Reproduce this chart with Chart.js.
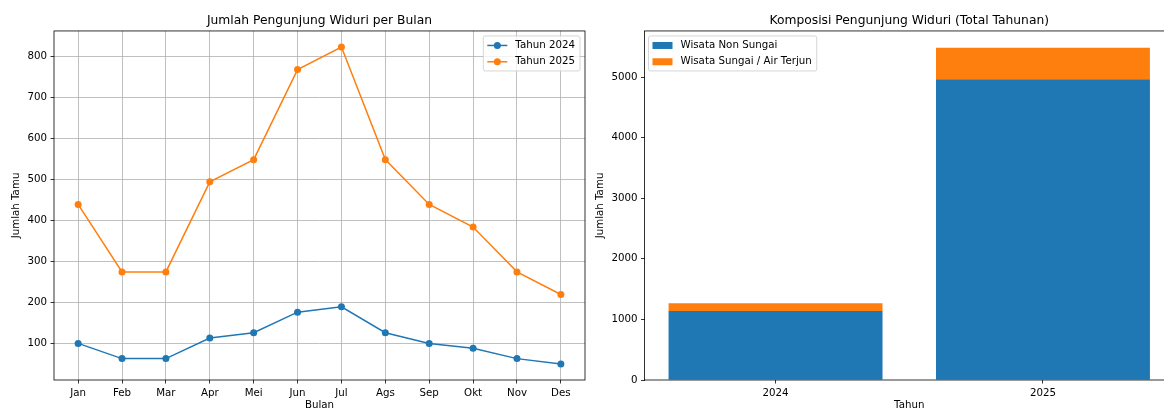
<!DOCTYPE html>
<html>
<head>
<meta charset="utf-8">
<script src="https://cdn.jsdelivr.net/npm/chart.js@4"></script>
<style>
  body { margin: 0; background: #fff; }
  #wrap { position: relative; width: 1164px; height: 410px; overflow: hidden; }
  canvas { position: absolute; top: 0; }
</style>
</head>
<body>
<div id="wrap">
  <canvas id="chartBulan" width="600" height="410" style="left:0"></canvas>
  <canvas id="chartTahun" width="594" height="410" style="left:590px"></canvas>
</div>
<script>
/** Data **/
const bulan = ["Jan", "Feb", "Mar", "Apr", "Mei", "Jun", "Jul", "Ags", "Sep", "Okt", "Nov", "Des"];
const tamu2024 = [101, 64, 64, 114, 127, 177, 190, 127, 101, 89, 64, 51];
const tamu2025 = [439, 275, 275, 494, 548, 767, 822, 548, 439, 384, 275, 220];

const tahun = ["2024", "2025"];
const nonSungai = [1140, 4962];
const sungai = [125, 521];
const ticksTahunY = [0, 1000, 2000, 3000, 4000, 5000];

const biru = "#1f77b4";
const oranye = "#ff7f0e";
const FONT = "DejaVu Sans";
const FS = 10.25;

/** frame + legend inside the plot, like matplotlib **/
const frameLegend = {
  id: "frameLegend",
  afterDraw(chart, args, opts) {
    const ctx = chart.ctx;
    const a = chart.chartArea;
    ctx.save();
    ctx.strokeStyle = "#000";
    ctx.lineWidth = 0.8;
    ctx.strokeRect(a.left, a.top, a.right - a.left, a.bottom - a.top);

    ctx.font = FS + "px '" + FONT + "'";
    const sets = chart.data.datasets;
    let textW = 0;
    sets.forEach(ds => { textW = Math.max(textW, ctx.measureText(ds.label).width); });
    const w = 32 + textW + 5;
    const h = 35;
    const x = opts.align === "right" ? a.right - 5 - w : a.left + 4;
    const y = a.top + 5;

    ctx.fillStyle = "rgba(255,255,255,0.8)";
    ctx.strokeStyle = "#cccccc";
    ctx.lineWidth = 0.8;
    ctx.beginPath();
    ctx.roundRect(x, y, w, h, 2);
    ctx.fill();
    ctx.stroke();

    sets.forEach((ds, i) => {
      const cy = y + 9.5 + i * 16.3;
      if (opts.kind === "line") {
        ctx.strokeStyle = ds.borderColor;
        ctx.lineWidth = 1.5;
        ctx.beginPath();
        ctx.moveTo(x + 4, cy);
        ctx.lineTo(x + 24, cy);
        ctx.stroke();
        ctx.fillStyle = ds.borderColor;
        ctx.beginPath();
        ctx.arc(x + 14, cy, 3.5, 0, Math.PI * 2);
        ctx.fill();
      } else {
        ctx.fillStyle = ds.backgroundColor;
        ctx.fillRect(x + 4, cy - 3.5, 20, 7);
      }
      ctx.fillStyle = "#000";
      ctx.textBaseline = "middle";
      ctx.textAlign = "left";
      ctx.fillText(ds.label, x + 32, cy);
    });
    ctx.restore();
  }
};

function titleOpts(text) {
  return {
    display: true,
    text: text,
    fullSize: false,
    color: "#000",
    font: { family: FONT, size: 12.3, weight: "normal", lineHeight: 1.2 },
    padding: { top: 13.6, bottom: 2.6 }
  };
}

function tickFont() {
  return { family: FONT, size: FS };
}

/** Chart 1: monthly lines **/
new Chart(document.getElementById("chartBulan"), {
  type: "line",
  data: {
    datasets: [{
      label: "Tahun 2024",
      data: tamu2024.map((v, i) => ({ x: i, y: v })),
      borderColor: biru,
      backgroundColor: biru,
      borderWidth: 1.5,
      pointRadius: 3.5,
      pointBorderWidth: 0,
      tension: 0
    }, {
      label: "Tahun 2025",
      data: tamu2025.map((v, i) => ({ x: i, y: v })),
      borderColor: oranye,
      backgroundColor: oranye,
      borderWidth: 1.5,
      pointRadius: 3.5,
      pointBorderWidth: 0,
      tension: 0
    }]
  },
  options: {
    responsive: false,
    animation: false,
    layout: { padding: { left: 0, right: 15, top: 0, bottom: 0 } },
    plugins: {
      legend: { display: false },
      tooltip: { enabled: false },
      title: titleOpts("Jumlah Pengunjung Widuri per Bulan"),
      frameLegend: { align: "right", kind: "line" }
    },
    scales: {
      x: {
        type: "linear",
        min: -0.55,
        max: 11.55,
        afterFit: s => { s.height = 30; },
        grid: { color: "#b0b0b0", lineWidth: 0.8, tickLength: 3.5, tickColor: "#000", tickWidth: 0.8 },
        border: { display: false },
        ticks: {
          stepSize: 1,
          includeBounds: false,
          autoSkip: false,
          maxRotation: 0,
          maxTicksLimit: 20,
          padding: 3.5,
          color: "#000",
          font: tickFont(),
          callback: v => bulan[v] ?? ""
        },
        title: { display: true, text: "Bulan", color: "#000", font: { family: FONT, size: FS, lineHeight: 1 }, padding: { top: 0, bottom: 0 } }
      },
      y: {
        type: "linear",
        min: 12,
        max: 861,
        afterFit: s => { s.width = 54; },
        grid: { color: "#b0b0b0", lineWidth: 0.8, tickLength: 3.5, tickColor: "#000", tickWidth: 0.8 },
        border: { display: false },
        ticks: {
          stepSize: 100,
          includeBounds: false,
          padding: 3.5,
          color: "#000",
          font: tickFont(),
          callback: v => String(v)
        },
        title: { display: true, text: "Jumlah Tamu", color: "#000", font: { family: FONT, size: FS, lineHeight: 1.2 }, padding: { top: 10.5, bottom: 0 } }
      }
    }
  },
  plugins: [frameLegend]
});

/** Chart 2: stacked yearly bars **/
new Chart(document.getElementById("chartTahun"), {
  type: "bar",
  data: {
    datasets: [{
      label: "Wisata Non Sungai",
      data: nonSungai.map((v, i) => ({ x: i, y: v })),
      backgroundColor: biru,
      borderWidth: 0,
      categoryPercentage: 1,
      barPercentage: 0.8
    }, {
      label: "Wisata Sungai / Air Terjun",
      data: sungai.map((v, i) => ({ x: i, y: v })),
      backgroundColor: oranye,
      borderWidth: 0,
      categoryPercentage: 1,
      barPercentage: 0.8
    }]
  },
  options: {
    responsive: false,
    animation: false,
    layout: { padding: { left: 0, right: 10, top: 0, bottom: 0 } },
    plugins: {
      legend: { display: false },
      tooltip: { enabled: false },
      title: titleOpts("Komposisi Pengunjung Widuri (Total Tahunan)"),
      frameLegend: { align: "left", kind: "patch" }
    },
    scales: {
      x: {
        type: "linear",
        stacked: true,
        offset: false,
        min: -0.49,
        max: 1.49,
        afterFit: s => { s.height = 30; },
        afterBuildTicks: s => { s.ticks = tahun.map((t, i) => ({ value: i })); },
        grid: { display: true, drawOnChartArea: false, offset: false, tickLength: 3.5, tickColor: "#000", tickWidth: 0.8 },
        border: { display: false },
        ticks: {
          autoSkip: false,
          maxRotation: 0,
          padding: 3.5,
          color: "#000",
          font: tickFont(),
          callback: v => tahun[v] ?? ""
        },
        title: { display: true, text: "Tahun", color: "#000", font: { family: FONT, size: FS, lineHeight: 1 }, padding: { top: 0, bottom: 0 } }
      },
      y: {
        type: "linear",
        stacked: true,
        min: 0,
        max: 5760,
        afterFit: s => { s.width = 54.5; },
        afterBuildTicks: s => { s.ticks = ticksTahunY.map(v => ({ value: v })); },
        grid: { display: true, drawOnChartArea: false, tickLength: 3.5, tickColor: "#000", tickWidth: 0.8 },
        border: { display: false },
        ticks: {
          padding: 3.5,
          color: "#000",
          font: tickFont(),
          callback: v => String(v)
        },
        title: { display: true, text: "Jumlah Tamu", color: "#000", font: { family: FONT, size: FS, lineHeight: 1.2 }, padding: { top: 4, bottom: 0 } }
      }
    }
  },
  plugins: [frameLegend]
});
</script>
</body>
</html>
